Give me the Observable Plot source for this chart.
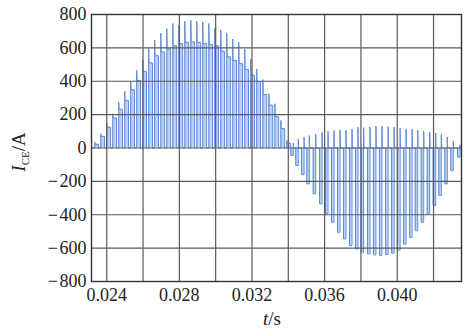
<!DOCTYPE html>
<html>
<head>
<meta charset="utf-8">
<script src="https://cdn.jsdelivr.net/npm/d3@7"></script>
<script src="https://cdn.jsdelivr.net/npm/@observablehq/plot@0.6"></script>
<style>
  body { margin: 0; background: #fff; }
  #chart svg { display: block; }
  #chart svg text { font-family: "Liberation Serif", "Times New Roman", serif !important; font-variant-numeric: normal !important; }
</style>
</head>
<body>
<div id="chart"></div>
<script>
// Positive half-wave: turn-on instants (s), turn-on overshoot peaks (A), conduction levels (A)
const posTimes = [0.02334, 0.02367, 0.02400, 0.02433, 0.02466, 0.02499, 0.02532, 0.02565,
  0.02598, 0.02631, 0.02664, 0.02698, 0.02731, 0.02764, 0.02797, 0.02830, 0.02863, 0.02896,
  0.02929, 0.02962, 0.02995, 0.03028, 0.03061, 0.03094, 0.03127, 0.03160, 0.03193, 0.03226,
  0.03260, 0.03293, 0.03326, 0.03359, 0.03392];
const posPeaks = [36, 85, 150, 205, 275, 340, 400, 465, 525, 595, 648, 688, 716, 746, 736, 760,
  766, 760, 755, 746, 716, 708, 688, 652, 633, 593, 533, 474, 410, 325, 265, 165, 46];
const posLevels = [22, 70, 125, 180, 232, 284, 349, 405, 458, 510, 553, 575, 593, 613, 626, 633,
  636, 633, 626, 620, 613, 580, 546, 525, 506, 470, 436, 398, 320, 256, 188, 116, 28];

// Negative half-wave: pulse instants (s), negative conduction levels (A), recovery spikes (A)
const negTimes = [0.03414, 0.03441, 0.03473, 0.03502, 0.03537, 0.03572, 0.03605, 0.03638,
  0.03671, 0.03704, 0.03737, 0.03770, 0.03801, 0.03836, 0.03869, 0.03902, 0.03936, 0.03969,
  0.04002, 0.04035, 0.04068, 0.04099, 0.04132, 0.04165, 0.04198, 0.04229, 0.04262, 0.04295,
  0.04332];
const negTroughs = [-45, -105, -160, -215, -275, -335, -395, -445, -505, -545, -585, -605, -625,
  -635, -640, -643, -638, -630, -612, -576, -536, -496, -445, -395, -345, -285, -215, -136, -55];
const negSpikes = [30, 55, 64, 74, 84, 94, 100, 104, 108, 108, 114, 124, 122, 126, 130, 130, 128,
  124, 118, 114, 112, 108, 102, 96, 90, 82, 66, 42, 20];

// Axis ticks and grid
const xTicks = [0.024, 0.028, 0.032, 0.036, 0.040];
const xGrid = [0.024, 0.026, 0.028, 0.030, 0.032, 0.034, 0.036, 0.038, 0.040, 0.042];
const yTicks = [-800, -600, -400, -200, 0, 200, 400, 600, 800];
const xDomain = [0.02316, 0.04354];
const yDomain = [-800, 800];

// Pulse shape timing (s)
const onPos = 0.00021, onNeg = 0.000138, edge = 0.00002;

// Assemble the switched current trace from the pulse tables
const wave = [{t: xDomain[0], i: 0}];
posTimes.forEach((t, k) => {
  wave.push({t, i: 0}, {t, i: posPeaks[k]}, {t: t + edge, i: posLevels[k]},
            {t: t + onPos, i: posLevels[k]}, {t: t + onPos, i: 0});
});
negTimes.forEach((t, k) => {
  wave.push({t, i: 0}, {t, i: negTroughs[k]}, {t: t + onNeg, i: negTroughs[k]},
            {t: t + onNeg, i: negSpikes[k]}, {t: t + onNeg + edge, i: 0});
});
wave.push({t: xDomain[1], i: 0});

const fmtY = d => d < 0 ? "\u2212\u200a" + Math.abs(d) : String(d);
const serif = "Liberation Serif, Times New Roman, serif";

const chart = Plot.plot({
  width: 470,
  height: 332,
  marginLeft: 91,
  marginRight: 9,
  marginTop: 14,
  marginBottom: 51,
  style: {fontFamily: serif, fontSize: "17px", color: "#222", background: "#fff"},
  x: {domain: xDomain, label: null},
  y: {domain: yDomain, label: null},
  marks: [
    Plot.areaY(wave, {x: "t", y: "i", fill: "#b4caee", fillOpacity: 0.9}),
    Plot.line(wave, {x: "t", y: "i", stroke: "#5b8bd6", strokeWidth: 1}),
    Plot.ruleX(xGrid, {stroke: "#5a5a5a", strokeWidth: 1.2}),
    Plot.ruleY(yTicks, {stroke: "#5a5a5a", strokeWidth: 1.2}),
    Plot.frame({stroke: "#333", strokeWidth: 1.4}),
    Plot.axisX({ticks: xTicks, tickFormat: d3.format(".3f"), tickSize: 0, tickPadding: 7,
      label: null, fontSize: 18}),
    Plot.axisY({ticks: yTicks, tickFormat: fmtY, tickSize: 0, tickPadding: 5,
      label: null, fontSize: 18})
  ]
});

document.getElementById("chart").append(chart);

// Axis titles with italic symbols and subscript
const svg = d3.select(chart);
const xl = svg.append("text")
  .attr("x", 272).attr("y", 325)
  .attr("text-anchor", "middle")
  .style("font-size", "19px").attr("fill", "#222");
xl.append("tspan").style("font-style", "italic").text("t");
xl.append("tspan").text("/s");

const yl = svg.append("text")
  .attr("transform", "translate(25,152) rotate(-90)")
  .attr("text-anchor", "middle")
  .style("font-size", "19px").attr("fill", "#222");
yl.append("tspan").style("font-style", "italic").text("I");
yl.append("tspan").attr("dy", 4).style("font-size", "11px").text("CE");
yl.append("tspan").attr("dy", -4).text("/A");
</script>
</body>
</html>
